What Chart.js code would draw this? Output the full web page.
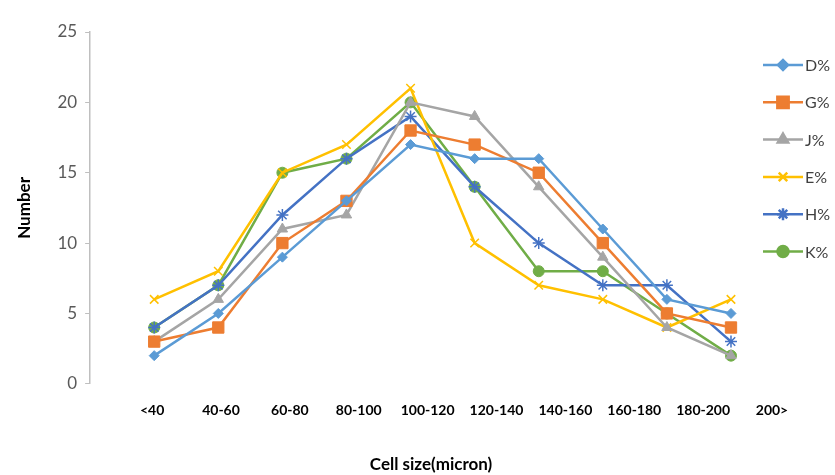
<!DOCTYPE html>
<html>
<head>
<meta charset="utf-8">
<script src="https://cdn.jsdelivr.net/npm/chart.js@4.4.1/dist/chart.umd.min.js"></script>
<style>
  body { margin: 0; background: #fff; }
  #wrap { width: 835px; height: 475px; }
</style>
</head>
<body>
<div id="wrap"><canvas id="chart" width="835" height="475"></canvas></div>
<script>
// --- data ---
const categories = ['<40', '40-60', '60-80', '80-100', '100-120', '120-140', '140-160', '160-180', '180-200', '200>'];
const seriesNames = ['D%', 'G%', 'J%', 'E%', 'H%', 'K%'];
const valuesD = [2, 5, 9, 13, 17, 16, 16, 11, 6, 5];
const valuesG = [3, 4, 10, 13, 18, 17, 15, 10, 5, 4];
const valuesJ = [3, 6, 11, 12, 20, 19, 14, 9, 4, 2];
const valuesE = [6, 8, 15, 17, 21, 10, 7, 6, 4, 6];
const valuesH = [4, 7, 12, 16, 19, 14, 10, 7, 7, 3];
const valuesK = [4, 7, 15, 16, 20, 14, 8, 8, 5, 2];
const yTicks = [0, 5, 10, 15, 20, 25];

// styles per series
const styles = [
  { color: '#5B9BD5', point: 'rectRot', radius: 5, pbw: 1 },
  { color: '#ED7D31', point: 'rect', radius: 8, pbw: 1 },
  { color: '#A5A5A5', point: 'triangle', radius: 6, pbw: 1 },
  { color: '#FFC000', point: 'crossRot', radius: 6, pbw: 1.5 },
  { color: '#4472C4', point: 'star', radius: 6, pbw: 1.5 },
  { color: '#70AD47', point: 'circle', radius: 5.5, pbw: 1 }
];
const allValues = [valuesD, valuesG, valuesJ, valuesE, valuesH, valuesK];

const datasets = allValues.map((vals, i) => ({
  label: seriesNames[i],
  data: vals.map((v, k) => ({ x: k, y: v })),
  borderColor: styles[i].color,
  backgroundColor: styles[i].color,
  borderWidth: 2.5,
  pointStyle: styles[i].point,
  pointRadius: styles[i].radius,
  pointBorderWidth: styles[i].pbw,
  pointBackgroundColor: styles[i].color,
  pointBorderColor: styles[i].color,
  tension: 0
}));

// legend drawn as line + marker like the original
const lineLegend = {
  id: 'lineLegend',
  afterDraw(chart) {
    const ctx = chart.ctx;
    ctx.save();
    chart.data.datasets.forEach((ds, i) => {
      const y = 65 + i * 37.3;
      ctx.strokeStyle = ds.borderColor;
      ctx.lineWidth = 2.5;
      ctx.beginPath();
      ctx.moveTo(763, y);
      ctx.lineTo(803, y);
      ctx.stroke();
      ctx.fillStyle = ds.borderColor;
      Chart.helpers.drawPoint(ctx, {
        pointStyle: ds.pointStyle,
        radius: ds.pointRadius,
        borderWidth: ds.pointBorderWidth,
        rotation: 0
      }, 783, y);
      ctx.fillStyle = '#404040';
      ctx.font = '16px Lato';
      ctx.textBaseline = 'middle';
      ctx.textAlign = 'left';
      ctx.fillText(ds.label, 805, y + 1);
    });
    ctx.restore();
  }
};

new Chart(document.getElementById('chart'), {
  type: 'line',
  data: { datasets },
  plugins: [lineLegend],
  options: {
    responsive: false,
    animation: false,
    layout: { padding: { top: 32, right: 63, bottom: 0, left: 14 } },
    plugins: { legend: { display: false }, tooltip: { enabled: false } },
    scales: {
      x: {
        type: 'linear',
        display: false,
        min: -1,
        max: 9.64
      },
      xl: {
        type: 'linear',
        position: 'bottom',
        min: -0.9,
        max: 9,
        afterBuildTicks: (axis) => { axis.ticks = categories.map((c, i) => ({ value: i })); },
        grid: { display: false },
        border: { display: false },
        ticks: {
          autoSkip: false,
          maxRotation: 0,
          padding: 10,
          color: '#000',
          font: { family: 'Lato', size: 14, weight: 'bold' },
          callback: (v) => categories[v]
        },
        title: {
          display: true,
          text: 'Cell size(micron)',
          color: '#000',
          font: { family: 'Lato', size: 17, weight: 'bold' },
          padding: { top: 26, bottom: 0 }
        }
      },
      y: {
        min: 0,
        max: 25,
        afterBuildTicks: (axis) => { axis.ticks = yTicks.map(v => ({ value: v })); },
        grid: { drawOnChartArea: false, drawTicks: true, tickLength: 5, color: '#BFBFBF' },
        border: { display: true, color: '#BFBFBF', width: 1.5 },
        ticks: {
          padding: 8,
          color: '#595959',
          font: { family: 'Lato', size: 17 }
        },
        title: {
          display: true,
          text: 'Number',
          color: '#000',
          font: { family: 'Lato', size: 17, weight: 'bold' },
          padding: { top: 0, bottom: 15 }
        }
      }
    }
  }
});
</script>
</body>
</html>
